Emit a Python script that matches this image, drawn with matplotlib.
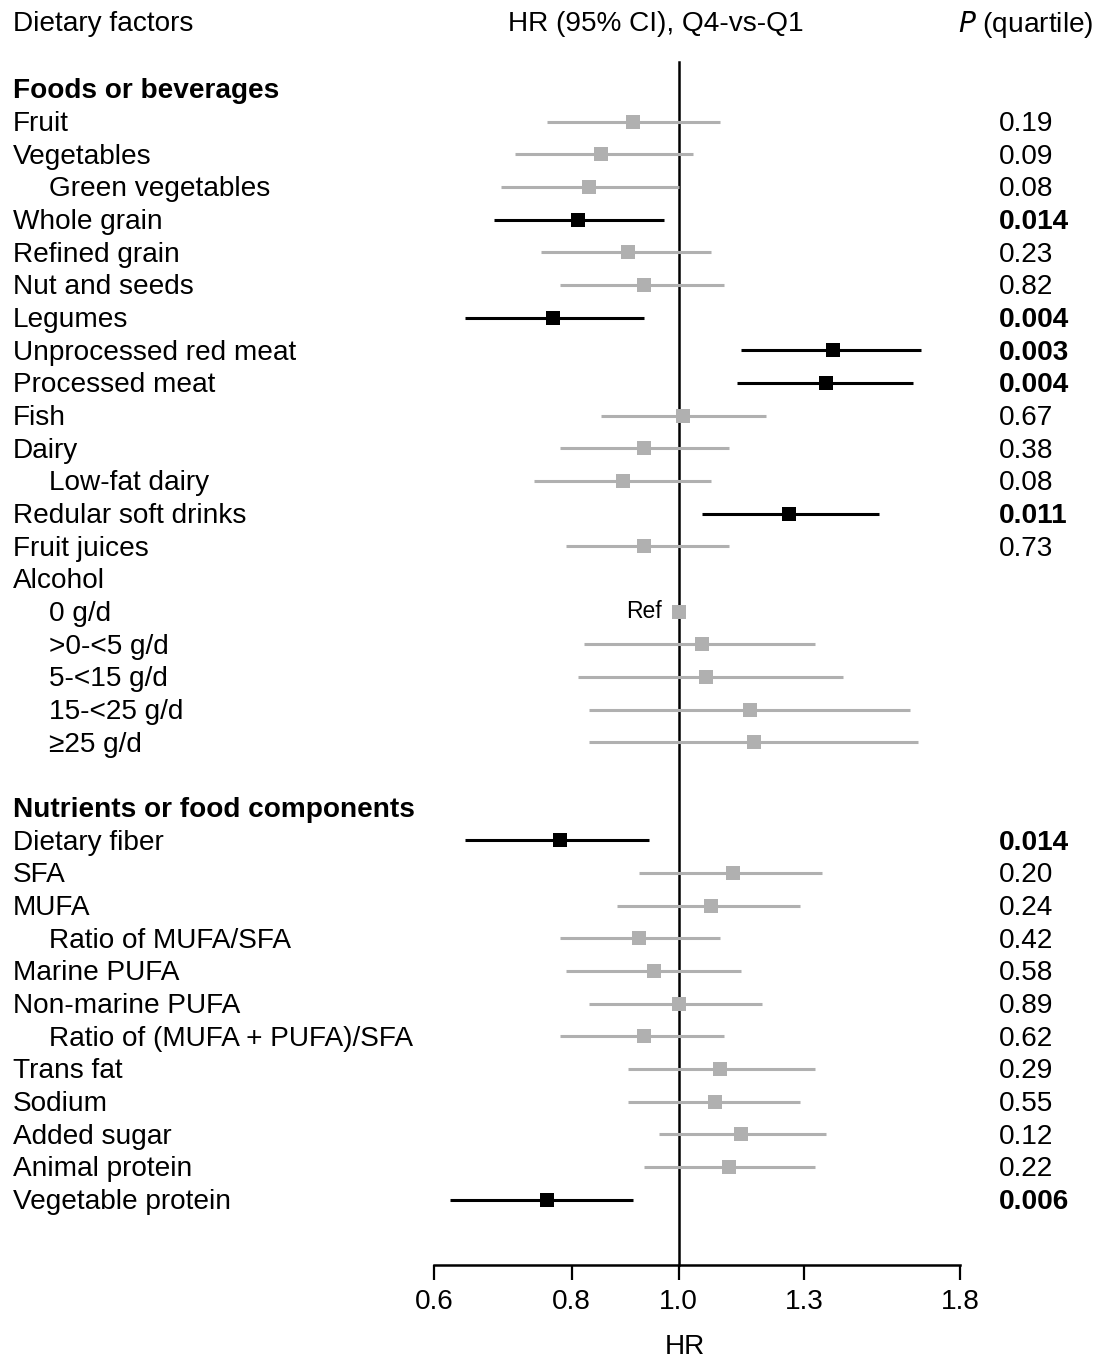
import numpy as np
import matplotlib
matplotlib.use("Agg")
import matplotlib.pyplot as plt

plt.rcParams["font.family"] = ["Liberation Sans", "DejaVu Sans"]

# rows top to bottom; "#" prefix = bold section header, two leading spaces = indented, "" = blank row
LABELS = [
    "#Foods or beverages", "Fruit", "Vegetables", "  Green vegetables", "Whole grain",
    "Refined grain", "Nut and seeds", "Legumes", "Unprocessed red meat", "Processed meat",
    "Fish", "Dairy", "  Low-fat dairy", "Redular soft drinks", "Fruit juices", "Alcohol",
    "  0 g/d", "  >0-<5 g/d", "  5-<15 g/d", "  15-<25 g/d", "  ≥25 g/d", "",
    "#Nutrients or food components", "Dietary fiber", "SFA", "MUFA", "  Ratio of MUFA/SFA",
    "Marine PUFA", "Non-marine PUFA", "  Ratio of (MUFA + PUFA)/SFA", "Trans fat", "Sodium",
    "Added sugar", "Animal protein", "Vegetable protein",
]
NA = np.nan
HR = [NA, 0.91, 0.85, 0.83, 0.81, 0.90, 0.93, 0.77, 1.38, 1.36, 1.01, 0.93, 0.89, 1.26, 0.93, NA,
      1.00, 1.05, 1.06, 1.16, 1.17, NA,
      NA, 0.78, 1.12, 1.07, 0.92, 0.95, 1.00, 0.93, 1.09, 1.08, 1.14, 1.11, 0.76]
LOW = [NA, 0.76, 0.71, 0.69, 0.68, 0.75, 0.78, 0.64, 1.14, 1.13, 0.85, 0.78, 0.74, 1.05, 0.79, NA,
       NA, 0.82, 0.81, 0.83, 0.83, NA,
       NA, 0.64, 0.92, 0.88, 0.78, 0.79, 0.83, 0.78, 0.90, 0.90, 0.96, 0.93, 0.62]
HIGH = [NA, 1.09, 1.03, 1.00, 0.97, 1.07, 1.10, 0.93, 1.66, 1.63, 1.20, 1.11, 1.07, 1.52, 1.11, NA,
        NA, 1.33, 1.41, 1.62, 1.65, NA,
        NA, 0.94, 1.35, 1.29, 1.09, 1.14, 1.19, 1.10, 1.33, 1.29, 1.36, 1.33, 0.91]
PVAL = ["", "0.19", "0.09", "0.08", "0.014", "0.23", "0.82", "0.004", "0.003", "0.004",
        "0.67", "0.38", "0.08", "0.011", "0.73", "", "", "", "", "", "", "",
        "", "0.014", "0.20", "0.24", "0.42", "0.58", "0.89", "0.62", "0.29", "0.55",
        "0.12", "0.22", "0.006"]
SIG = [p in ("0.014", "0.004", "0.003", "0.011", "0.006") for p in PVAL]
XTICKS = [0.6, 0.8, 1.0, 1.3, 1.8]

W, H = 1103, 1359
fig = plt.figure(figsize=(W / 100, H / 100), dpi=100)
FS = 20.2
GRAY = "#b0b0b0"

# axes: x spans 0.6..1.8 (px 434..960), y rows: row k at px 89 + 32.7k, spine at row 36
ax_l, ax_r = 434 / W, 960 / W
ax_b = 1 - 1265 / H
ax = fig.add_axes([ax_l, ax_b, ax_r - ax_l, 1 - ax_b])
ax.set_xscale("log")
ax.set_xlim(0.6, 1.8)
ytop = (0 - 89) / 32.7
ax.set_ylim(36, ytop)

for s in ("top", "right", "left"):
    ax.spines[s].set_visible(False)
ax.spines["bottom"].set_linewidth(1.8)
ax.set_yticks([])
ax.set_xticks(XTICKS)
ax.set_xticklabels([f"{t:.1f}" for t in XTICKS], fontsize=FS)
ax.minorticks_off()
ax.tick_params(axis="x", direction="out", length=11, width=1.6, pad=6)

# reference line at HR = 1
ax.plot([1, 1], [-0.83, 36], color="black", lw=1.8, clip_on=False, zorder=2)

for k, lab in enumerate(LABELS):
    if np.isnan(HR[k]):
        continue
    c = "black" if SIG[k] else GRAY
    if not np.isnan(LOW[k]):
        ax.plot([LOW[k], HIGH[k]], [k, k], color=c, lw=2.2, solid_capstyle="butt", zorder=3)
    ax.plot([HR[k]], [k], marker="s", ms=9.8, color=c, mec=c, mew=0, zorder=4)
    if lab.strip() == "0 g/d":
        ax.text(0.965, k, "Ref", ha="right", va="center", fontsize=16.5)

# row labels and p-values in figure pixel space for x
tr = ax.get_yaxis_transform()
def fx(px):
    return (px / W - ax_l) / (ax_r - ax_l)

dy = 0.07  # small downward nudge so text centres sit on the marker rows
for k, lab in enumerate(LABELS):
    if not lab:
        continue
    if lab.startswith("#"):
        ax.text(fx(13), k + dy, lab[1:], transform=tr, ha="left", va="center",
                fontsize=FS, fontweight="bold", clip_on=False)
        continue
    x0 = 49 if lab.startswith("  ") else 13
    ax.text(fx(x0), k + dy, lab.strip(), transform=tr, ha="left", va="center",
            fontsize=FS, clip_on=False)
    if PVAL[k]:
        ax.text(fx(999), k + dy, PVAL[k], transform=tr, ha="left", va="center", fontsize=FS,
                fontweight="bold" if SIG[k] else "normal", clip_on=False)

# column headers
hy = -2.05 + dy
ax.text(fx(13), hy, "Dietary factors", transform=tr, ha="left", va="center", fontsize=FS)
ax.text(fx(656), hy, "HR (95% CI), Q4-vs-Q1", transform=tr, ha="center", va="center", fontsize=FS)
ax.text(fx(1093), hy, "$\\it{P}$ (quartile)", transform=tr, ha="right", va="center", fontsize=FS)

fig.text(685 / W, 1 - 1347 / H, "HR", ha="center", va="center", fontsize=FS)

fig.savefig("out.png", dpi=100)
